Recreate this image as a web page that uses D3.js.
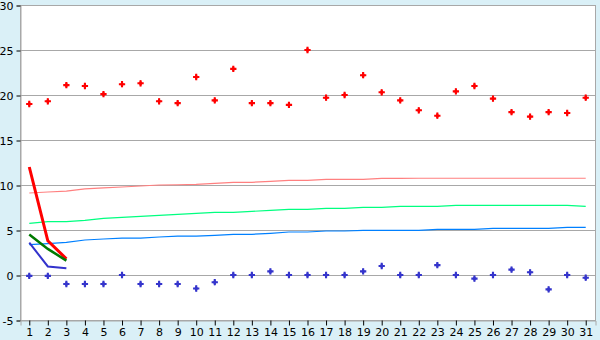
<!DOCTYPE html>
<html>
<head>
<meta charset="utf-8">
<script src="https://cdn.jsdelivr.net/npm/d3@7"></script>
<style>
  body { margin: 0; background: #daf0f7; }
  svg { display: block; }
  .tick text { font-family: "DejaVu Sans", Verdana, sans-serif; font-size: 11px; fill: #000; }
</style>
</head>
<body>
<div id="chart"></div>
<script>
// chart size
var svgWidth = 600;
var svgHeight = 340;
var margin = { top: 5, right: 5, bottom: 20, left: 20 };

// categories (days)
var days = d3.range(1, 32);
var yTicks = [-5, 0, 5, 10, 15, 20, 25, 30];

// scatter series
var redPoints = [19.0, 19.3, 21.1, 21.0, 20.1, 21.2, 21.3, 19.3, 19.1, 22.0, 19.4, 22.9, 19.1, 19.1, 18.9,
  25.0, 19.7, 20.0, 22.2, 20.3, 19.4, 18.3, 17.7, 20.4, 21.0, 19.6, 18.1, 17.6, 18.1, 18.0, 19.7];
var bluePoints = [-0.1, -0.1, -1.0, -1.0, -1.0, 0.0, -1.0, -1.0, -1.0, -1.5, -0.8, 0.0, 0.0, 0.4, 0.0,
  0.0, 0.0, 0.0, 0.4, 1.0, 0.0, 0.0, 1.1, 0.0, -0.4, 0.0, 0.6, 0.3, -1.6, 0.0, -0.3];

// thin trend lines
var pinkTrend = [9.11, 9.22, 9.33, 9.56, 9.67, 9.78, 9.89, 10.0, 10.03, 10.07, 10.19, 10.3, 10.3, 10.41, 10.52,
  10.52, 10.63, 10.63, 10.63, 10.74, 10.74, 10.75, 10.75, 10.75, 10.75, 10.75, 10.75, 10.75, 10.75, 10.75, 10.75];
var greenTrend = [5.74, 5.93, 5.93, 6.07, 6.3, 6.41, 6.52, 6.63, 6.74, 6.85, 6.96, 6.96, 7.07, 7.19, 7.3,
  7.3, 7.41, 7.41, 7.52, 7.52, 7.63, 7.63, 7.63, 7.74, 7.74, 7.74, 7.74, 7.74, 7.74, 7.74, 7.63];
var blueTrend = [3.37, 3.48, 3.63, 3.89, 4.0, 4.1, 4.1, 4.22, 4.33, 4.33, 4.41, 4.52, 4.52, 4.63, 4.78,
  4.78, 4.89, 4.89, 4.96, 4.96, 4.96, 4.96, 5.07, 5.07, 5.07, 5.19, 5.19, 5.19, 5.19, 5.3, 5.3];

// short thick lines (first three days)
var shortDays = [1, 2, 3];
var redShort = [12.0, 3.8, 1.8];
var greenShort = [4.5, 2.9, 1.6];
var blueShort = [3.6, 0.95, 0.75];

var svg = d3.select("#chart")
  .append("svg")
  .attr("width", svgWidth)
  .attr("height", svgHeight);

var x = d3.scaleBand()
  .domain(days)
  .range([margin.left, svgWidth - margin.right]);

var y = d3.scaleLinear()
  .domain([-5, 30])
  .range([svgHeight - margin.bottom, margin.top]);

var cx = d => x(d) + x.bandwidth() / 2;

// plot area
svg.append("rect")
  .attr("x", margin.left)
  .attr("y", margin.top)
  .attr("width", svgWidth - margin.left - margin.right)
  .attr("height", svgHeight - margin.top - margin.bottom)
  .attr("fill", "#fff")
  .attr("stroke", "#a8a8a8")
  .attr("shape-rendering", "crispEdges");

// gridlines
svg.append("g")
  .selectAll("line")
  .data(yTicks)
  .enter()
  .append("line")
  .attr("x1", margin.left)
  .attr("x2", svgWidth - margin.right)
  .attr("y1", d => Math.round(y(d)) + 0.5)
  .attr("y2", d => Math.round(y(d)) + 0.5)
  .attr("stroke", "#a8a8a8");

// y axis (plain hyphen for negatives, like the original)
var leftAxis = d3.axisLeft(y).tickValues(yTicks).tickFormat(d => String(d)).tickSize(4).tickPadding(3);
var yAxisG = svg.append("g")
  .attr("transform", `translate(${margin.left + 0.5}, 0.5)`)
  .call(leftAxis);
yAxisG.select(".domain").attr("stroke", "#a8a8a8");
yAxisG.selectAll(".tick line").attr("stroke", "#000");

// x axis
var bottomAxis = d3.axisBottom(x).tickSize(5).tickPadding(3);
var xAxisG = svg.append("g")
  .attr("transform", `translate(0.5, ${svgHeight - margin.bottom + 0.5})`)
  .call(bottomAxis);
xAxisG.select(".domain").attr("stroke", "#a8a8a8");
xAxisG.selectAll(".tick line").attr("stroke", "#000");

// trend lines
var trendLine = d3.line()
  .x((d, i) => cx(days[i]))
  .y(d => y(d));

[[pinkTrend, "#ff8080"], [greenTrend, "#00ff80"], [blueTrend, "#0080ff"]].forEach(function(s) {
  svg.append("path")
    .datum(s[0])
    .attr("d", trendLine)
    .attr("fill", "none")
    .attr("stroke", s[1])
    .attr("stroke-width", 1.2);
});

// short thick lines
var shortLine = d3.line()
  .x((d, i) => cx(shortDays[i]))
  .y(d => y(d));

[[blueShort, "#3333cc", 2], [redShort, "#ff0000", 3], [greenShort, "#007a00", 2.5]].forEach(function(s) {
  svg.append("path")
    .datum(s[0])
    .attr("d", shortLine)
    .attr("fill", "none")
    .attr("stroke", s[1])
    .attr("stroke-width", s[2]);
});

// markers: small bold cross with a diamond core
var cross = d3.symbol().type(d3.symbolCross).size(22);
var core = d3.symbol().type(d3.symbolDiamond).size(12);

[[redPoints, "#ff0000"], [bluePoints, "#3535cc"]].forEach(function(s) {
  var g = svg.append("g")
    .selectAll("g")
    .data(s[0])
    .enter()
    .append("g")
    .attr("transform", (d, i) => `translate(${cx(days[i])}, ${y(d)})`)
    .attr("fill", s[1]);
  g.append("path").attr("d", cross);
  g.append("path").attr("d", core);
});
</script>
</body>
</html>
